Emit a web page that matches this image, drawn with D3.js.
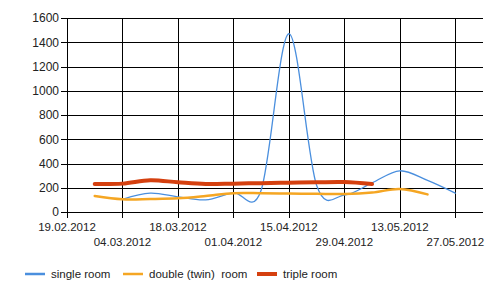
<!DOCTYPE html>
<html><head><meta charset="utf-8">
<script src="https://cdn.jsdelivr.net/npm/d3@7"></script>
<style>
html,body{margin:0;padding:0;background:#fff;}
svg{display:block;font-family:"Liberation Sans",Arial,sans-serif;}
</style></head>
<body><svg id="c" width="500" height="296"></svg>
<script>
const tickDates = ["19.02.2012","04.03.2012","18.03.2012","01.04.2012","15.04.2012","29.04.2012","13.05.2012","27.05.2012"];
const yTicks = [0,200,400,600,800,1000,1200,1400,1600];
const seriesNames = ["single room","double (twin)  room","triple room"];
const singleDates = ["04.03.2012","11.03.2012","18.03.2012","25.03.2012","01.04.2012","08.04.2012","15.04.2012","22.04.2012","29.04.2012","06.05.2012","13.05.2012","20.05.2012","27.05.2012"];
const singleValues = [105,155,125,100,160,180,1470,220,140,240,340,260,155];
const doubleDates = ["26.02.2012","04.03.2012","11.03.2012","18.03.2012","25.03.2012","01.04.2012","08.04.2012","15.04.2012","22.04.2012","29.04.2012","06.05.2012","13.05.2012","20.05.2012"];
const doubleValues = [132,105,107,113,132,155,155,152,150,148,160,190,145];
const tripleDates = ["26.02.2012","04.03.2012","11.03.2012","18.03.2012","25.03.2012","01.04.2012","08.04.2012","15.04.2012","22.04.2012","29.04.2012","06.05.2012"];
const tripleValues = [231,234,262,245,231,234,238,242,245,247,231];
const colors = ["#4a8fde","#f5a623","#d5400f"];
const widths = [1.3,2.5,4];
const legendWidths = [2.5,2.5,4];

const parse = d3.timeParse("%d.%m.%Y");
const svg = d3.select("#c");
const L=67,R=483,T=18,B=212;
const x = d3.scaleTime().domain([parse("19.02.2012"), parse("03.06.2012")]).range([L,R]);
const y = d3.scaleLinear().domain([0,1600]).range([B,T]);

svg.append("g").selectAll("line").data(yTicks).join("line")
  .attr("x1",L-6).attr("x2",R).attr("y1",d=>Math.round(y(d))+0.5).attr("y2",d=>Math.round(y(d))+0.5)
  .attr("stroke","#000").attr("stroke-width",1);
svg.append("g").selectAll("line").data(tickDates).join("line")
  .attr("x1",d=>Math.round(x(parse(d)))+0.5).attr("x2",d=>Math.round(x(parse(d)))+0.5)
  .attr("y1",T).attr("y2",B+6).attr("stroke","#000").attr("stroke-width",1);

svg.append("g").selectAll("text").data(yTicks).join("text")
  .attr("x",L-8).attr("y",d=>y(d)).attr("dy","0.36em").attr("text-anchor","end")
  .attr("font-size",12).attr("fill","#222").text(d=>d);
svg.append("g").selectAll("text").data(tickDates).join("text")
  .attr("x",d=>x(parse(d))).attr("y",(d,i)=>i%2===0?231:246).attr("text-anchor","middle")
  .attr("font-size",11.5).attr("fill","#222").text(d=>d);

const series = [[singleDates,singleValues],[doubleDates,doubleValues],[tripleDates,tripleValues]];
const line = d3.line().x(d=>x(d[0])).y(d=>y(d[1])).curve(d3.curveCardinal.tension(0));
series.forEach((s,i)=>{
  const pts = s[0].map((d,j)=>[parse(d), s[1][j]]);
  svg.append("path").attr("d",line(pts)).attr("fill","none")
    .attr("stroke",colors[i]).attr("stroke-width",widths[i]).attr("stroke-linecap","round");
});

const legX = [25,123,257];
const lg = svg.append("g");
seriesNames.forEach((n,i)=>{
  lg.append("line").attr("x1",legX[i]).attr("x2",legX[i]+20).attr("y1",274).attr("y2",274)
    .attr("stroke",colors[i]).attr("stroke-width",legendWidths[i]);
  lg.append("text").attr("x",legX[i]+26).attr("y",274).attr("dy","0.35em")
    .attr("font-size",11.5).attr("fill","#222").style("white-space","pre").text(n);
});
</script></body></html>
